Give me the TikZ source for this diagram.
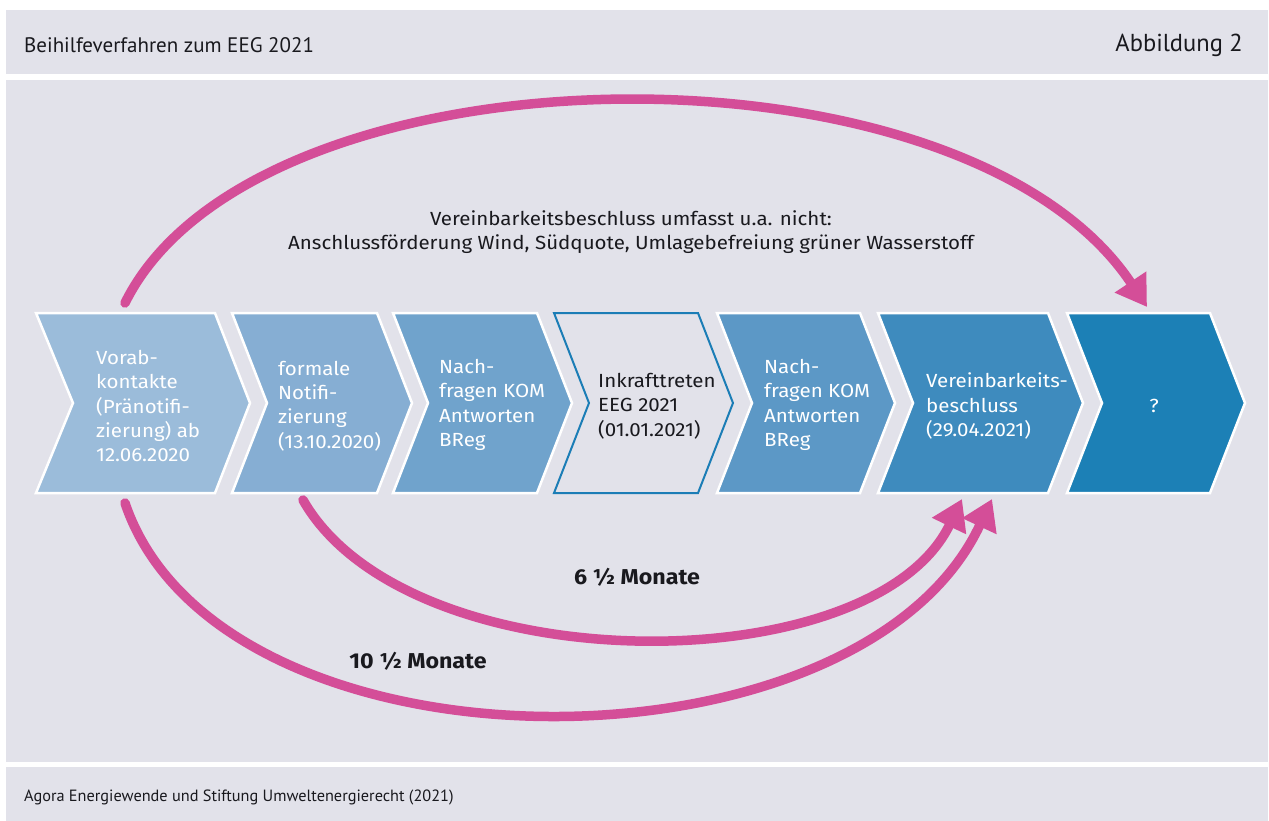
\documentclass[tikz,border=0pt]{standalone}
\usepackage{fontspec}
\setmainfont{Fira Sans}[FakeStretch=1.08]
\newfontfamily\narrowfont{PT Sans}
\usetikzlibrary{arrows.meta}
\definecolor{bg}{RGB}{226,226,234}
\definecolor{pinkarc}{RGB}{212,78,152}
\definecolor{cA}{RGB}{155,188,218}
\definecolor{cB}{RGB}{134,174,211}
\definecolor{cC}{RGB}{112,163,204}
\definecolor{cD}{RGB}{27,125,182}
\definecolor{cE}{RGB}{92,152,198}
\definecolor{cF}{RGB}{62,139,190}
\definecolor{cG}{RGB}{28,128,182}
\definecolor{ink}{RGB}{25,25,30}
\tikzset{
  panel/.style={fill=bg, draw=none},
  chev/.style={draw=white, line width=2.5pt, line join=miter},
  chevtext/.style={anchor=west, align=left, text=white, inner sep=0pt,
    font=\fontsize{19}{24.3}\selectfont},
  plaintext/.style={text=ink, inner sep=0pt, font=\fontsize{19}{24.3}\selectfont},
  headtext/.style={text=ink, inner sep=0pt, font=\narrowfont\fontsize{21}{26}\selectfont},
  arclabel/.style={text=ink, inner sep=0pt, font=\fontsize{21.5}{24}\selectfont\bfseries},
  arcarrow/.style={draw=pinkarc, line width=9.5pt, line cap=round,
    -{Triangle[length=30pt,width=36pt]}},
}
\newcommand\mychev[4]{%
  \path[chev,#1] (#2,313) -- (#3,313) -- ({#3+35},403) -- (#3,493) -- (#2,493) -- ({#2+#4},403) -- cycle;}
\begin{document}
\begin{tikzpicture}[x=1pt,y=-1pt]
\useasboundingbox (0,0) rectangle (1269,821);
\fill[white] (0,0) rectangle (1269,821);
% panels
\path[panel] (6,10) rectangle (1268,74);
\path[panel] (6,80) rectangle (1268,762);
\path[panel] (6,767) rectangle (1268,821);
\node[headtext, anchor=west] (title) at (24,45) {Beihilfeverfahren zum EEG 2021};
\node[headtext, anchor=east, font=\narrowfont\fontsize{24.5}{26}\selectfont] (fig) at (1243,45) {Abbildung 2};
\node[headtext, anchor=west, font=\narrowfont\fontsize{16.3}{20}\selectfont] (source) at (24,797) {Agora Energiewende und Stiftung Umweltenergierecht (2021)};
% chevrons
\mychev{fill=cA}{36}{215}{37}
\mychev{fill=cB}{232}{377}{35}
\mychev{fill=cC}{393}{537}{35}
\mychev{fill=bg,draw=cD,line width=2pt}{554}{698}{35}
\mychev{fill=cE}{717}{860}{35}
\mychev{fill=cF}{878}{1048}{35}
\mychev{fill=cG}{1067}{1210}{35}
% chevron texts
\node[chevtext] (s1) at (96,406) {Vorab-\\kontakte\\(Pränotifi-\\zierung) ab\\12.06.2020};
\node[chevtext] (s2) at (278,406) {formale\\Notifi-\\zierung\\(13.10.2020)};
\node[chevtext] (s3) at (439,405) {Nach-\\fragen KOM\\Antworten\\BReg};
\node[chevtext, text=ink] (s4) at (598,406) {Inkrafttreten\\EEG 2021\\(01.01.2021)};
\node[chevtext] (s5) at (764,405) {Nach-\\fragen KOM\\Antworten\\BReg};
\node[chevtext] (s6) at (926,406) {Vereinbarkeits-\\beschluss\\(29.04.2021)};
\node[chevtext, anchor=center] (s7) at (1154,406) {?};
% arc end points
\coordinate (topstart) at (125,303);
\coordinate (topend) at (1147,307);
\coordinate (innerstart) at (303,500);
\coordinate (innerend) at (962,499);
\coordinate (outerstart) at (125,503);
\coordinate (outerend) at (992,499);
% arcs
\draw[arcarrow] (topstart) .. controls (255,40) and (962,29) .. (topend);
\draw[arcarrow] (innerstart) .. controls (408,684) and (873,684) .. (innerend);
\draw[arcarrow] (outerstart) .. controls (220,784) and (859,784) .. (outerend);
% texts
\node[plaintext, align=center] (note) at (631,232) {Vereinbarkeitsbeschluss umfasst u.a. nicht:\\Anschlussförderung Wind, Südquote, Umlagebefreiung grüner Wasserstoff};
\node[arclabel] (six) at (637,577) {6 ½ Monate};
\node[arclabel] (ten) at (418,661) {10 ½ Monate};
\end{tikzpicture}
\end{document}
